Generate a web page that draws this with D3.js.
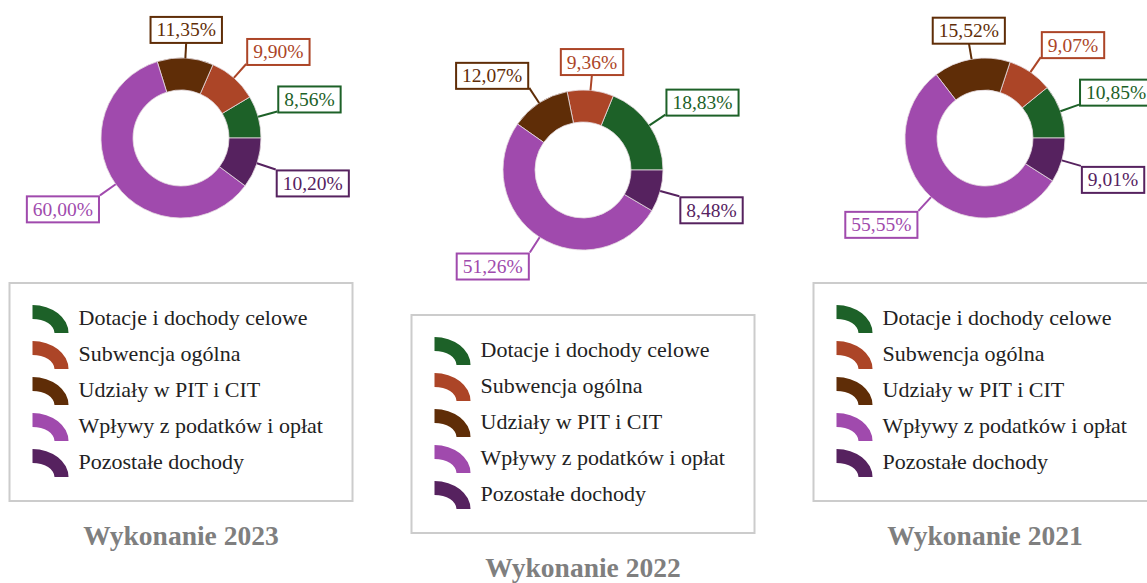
<!DOCTYPE html>
<html><head><meta charset="utf-8">
<script src="https://cdn.jsdelivr.net/npm/d3@7"></script>
<style>html,body{margin:0;padding:0;background:#fff;overflow:hidden}</style>
</head><body>
<svg id="chart" width="1147" height="583"></svg>
<script>
const categories = ["Dotacje i dochody celowe","Subwencja ogólna","Udziały w PIT i CIT","Wpływy z podatków i opłat","Pozostałe dochody"];
const seriesColors = ["#1d6128","#ac4527","#5f2d07","#a04aad","#56225f"];
const titles = ["Wykonanie 2023","Wykonanie 2022","Wykonanie 2021"];
const values2023 = [8.56, 9.90, 11.35, 60.00, 10.20];
const values2022 = [18.83, 9.36, 12.07, 51.26, 8.48];
const values2021 = [10.85, 9.07, 15.52, 55.55, 9.01];
const allValues = [values2023, values2022, values2021];

const svg = d3.select("#chart");
const serif = "'Liberation Serif','Times New Roman',serif";
const locale = d3.formatLocale({decimal: ",", thousands: " ", grouping: [3], currency: ["", ""]});
const fmt = v => locale.format(".2f")(v) + "%";

const R = 80, r0 = 48;
const color = d3.scaleOrdinal().domain(categories).range(seriesColors);
const pie = d3.pie().sort(null).value(d => d.v)
  .startAngle(Math.PI/2).endAngle(Math.PI/2 - 2*Math.PI);
const arc = d3.arc().innerRadius(r0).outerRadius(R);
const xPos = d3.scalePoint().domain(titles).range([181, 985]);

titles.forEach((title, i) => {
  const cx = xPos(title), cy = i === 1 ? 170 : 138;
  const g = svg.append("g").attr("transform", `translate(${cx},${cy})`);
  const data = pie(categories.map((c, j) => ({c, v: allValues[i][j]})));

  g.selectAll("path.slice").data(data).join("path")
    .attr("class","slice")
    .attr("d", arc)
    .attr("fill", d => color(d.data.c))
    .attr("stroke", "rgba(230,220,225,0.8)")
    .attr("stroke-width", 1);

  // labels
  data.forEach(d => {
    const a = (d.startAngle + d.endAngle)/2;
    const sx = Math.sin(a), sy = -Math.cos(a);
    const L = R + 16 + 4*Math.abs(sx);
    const p0 = [sx*R, sy*R], p1 = [sx*L, sy*L];
    const col = color(d.data.c);
    g.append("line").attr("x1",p0[0]).attr("y1",p0[1]).attr("x2",p1[0]).attr("y2",p1[1])
      .attr("stroke", col).attr("stroke-width", 2);
    const lg = g.append("g");
    const t = lg.append("text").text(fmt(d.data.v))
      .attr("font-family", serif).attr("font-size", 19.5).attr("fill", col)
      .attr("text-anchor","middle");
    const tw = t.node().getComputedTextLength();
    const bw = tw + 12, bh = 26;
    let bx;
    if (Math.abs(sx) < 0.25) bx = p1[0] - bw/2;
    else if (sx > 0) bx = p1[0] + 1;
    else bx = p1[0] - bw - 1;
    let by = sy < 0 ? p1[1] - bh + 1 : p1[1] + 1;
    lg.insert("rect","text").attr("x",bx).attr("y",by).attr("width",bw).attr("height",bh)
      .attr("fill","#fff").attr("stroke",col).attr("stroke-width",2);
    t.attr("x", bx + bw/2).attr("y", by + bh/2 + 6.5);
  });

  // legend
  const lw = 343, lh = 218;
  const lx = cx - lw/2, ly = cy + 145;
  svg.append("rect").attr("x", lx).attr("y", ly).attr("width", lw).attr("height", lh)
    .attr("fill","#fff").attr("stroke","#cccccc").attr("stroke-width",2);
  categories.forEach((c, j) => {
    const sx0 = lx + 23, sy0 = ly + 22 + j*36;
    const ox = sx0, oy = sy0 + 28;
    const sym = `M${ox},${oy-28} A36,28 0 0 1 ${ox+36},${oy} L${ox+22},${oy} A22,14 0 0 0 ${ox},${oy-14} Z`;
    svg.append("path").attr("d", sym).attr("fill", color(c));
    svg.append("text").attr("x", lx + 69).attr("y", ly + 42 + j*36)
      .attr("font-family", serif).attr("font-size", 22).attr("fill", "#222")
      .text(c);
  });

  svg.append("text").attr("x", cx).attr("y", cy + 407)
    .attr("text-anchor","middle").attr("font-family", serif).attr("font-weight","bold")
    .attr("font-size", 27.5).attr("fill", "#7f7f7f").text(title);
});
</script>
</body></html>
